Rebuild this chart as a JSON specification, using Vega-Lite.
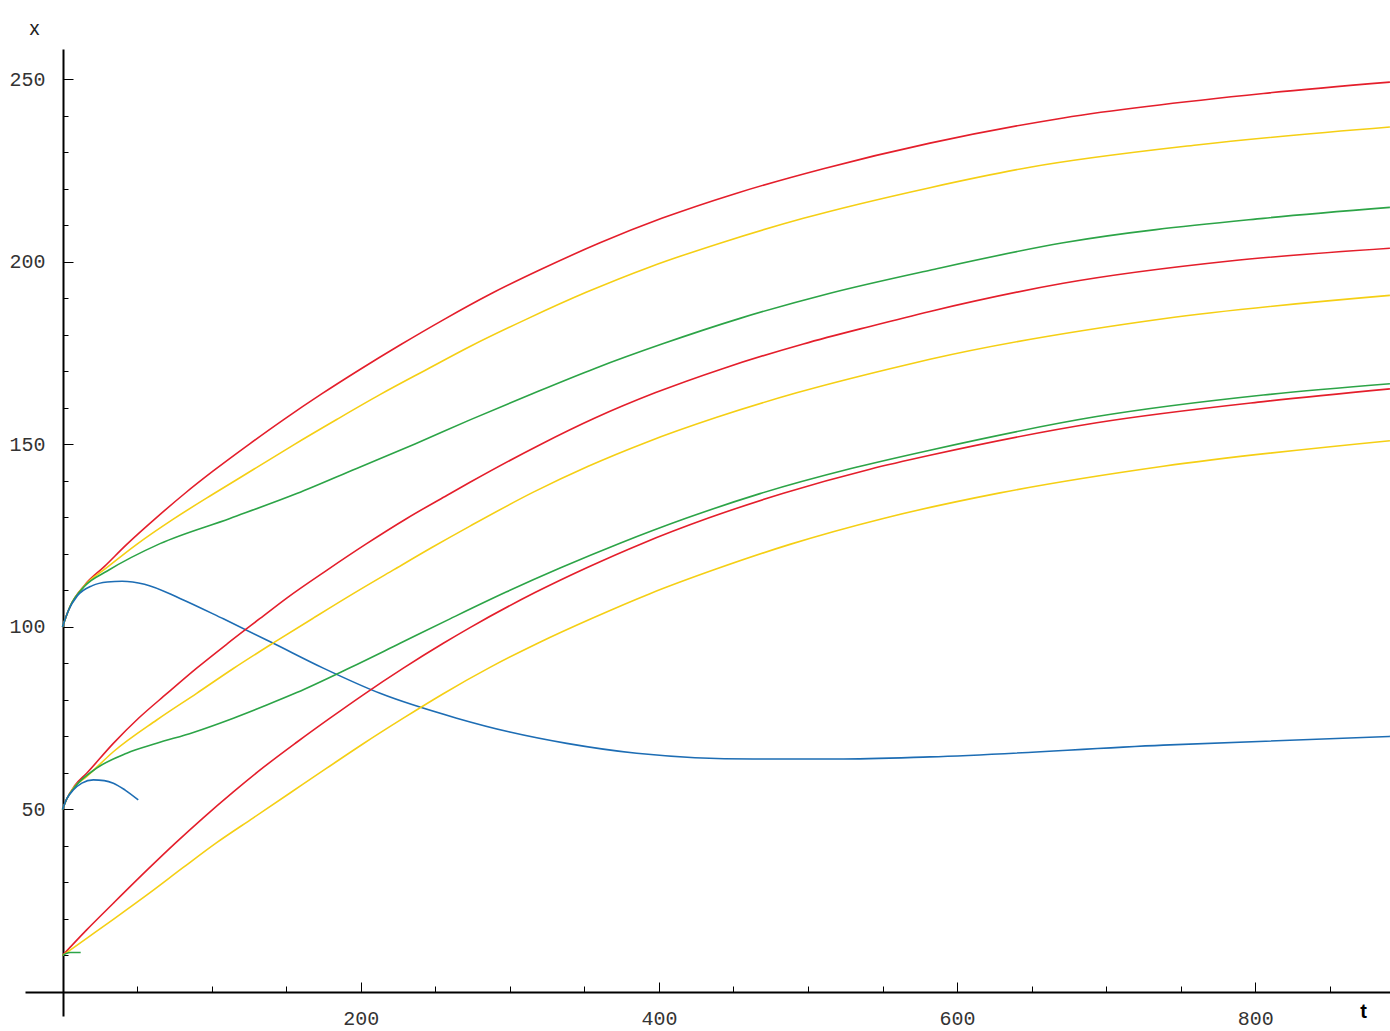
{
  "$schema": "https://vega.github.io/schema/vega-lite/v6.json",
  "width": 1365,
  "height": 967,
  "autosize": "none",
  "padding": {"left": 25, "top": 49, "right": 0, "bottom": 15},
  "background": "white",
  "config": {"view": {"stroke": null}},
  "datasets": {
    "curves": [
      {"s": "A-red", "c": "red", "t": 0, "v": 100},
      {"s": "A-red", "c": "red", "t": 5, "v": 105.5},
      {"s": "A-red", "c": "red", "t": 15, "v": 111.5},
      {"s": "A-red", "c": "red", "t": 28, "v": 116.5},
      {"s": "A-red", "c": "red", "t": 43.1, "v": 122.6},
      {"s": "A-red", "c": "red", "t": 63.2, "v": 130.0},
      {"s": "A-red", "c": "red", "t": 82.2, "v": 136.6},
      {"s": "A-red", "c": "red", "t": 101.1, "v": 142.7},
      {"s": "A-red", "c": "red", "t": 125.8, "v": 150.2},
      {"s": "A-red", "c": "red", "t": 148.1, "v": 156.7},
      {"s": "A-red", "c": "red", "t": 173.8, "v": 163.8},
      {"s": "A-red", "c": "red", "t": 199.5, "v": 170.5},
      {"s": "A-red", "c": "red", "t": 226.4, "v": 177.2},
      {"s": "A-red", "c": "red", "t": 255.4, "v": 184.1},
      {"s": "A-red", "c": "red", "t": 286.7, "v": 191.1},
      {"s": "A-red", "c": "red", "t": 320.3, "v": 197.8},
      {"s": "A-red", "c": "red", "t": 360.5, "v": 205.2},
      {"s": "A-red", "c": "red", "t": 401.9, "v": 211.9},
      {"s": "A-red", "c": "red", "t": 452.2, "v": 218.8},
      {"s": "A-red", "c": "red", "t": 510.3, "v": 225.5},
      {"s": "A-red", "c": "red", "t": 581.8, "v": 232.5},
      {"s": "A-red", "c": "red", "t": 671.2, "v": 239.4},
      {"s": "A-red", "c": "red", "t": 805.4, "v": 246.1},
      {"s": "A-red", "c": "red", "t": 890.3, "v": 249.2},

      {"s": "A-yellow", "c": "yellow", "t": 0, "v": 100},
      {"s": "A-yellow", "c": "yellow", "t": 5, "v": 105.5},
      {"s": "A-yellow", "c": "yellow", "t": 15, "v": 111.4},
      {"s": "A-yellow", "c": "yellow", "t": 29, "v": 116.0},
      {"s": "A-yellow", "c": "yellow", "t": 49.8, "v": 122.6},
      {"s": "A-yellow", "c": "yellow", "t": 74.3, "v": 129.5},
      {"s": "A-yellow", "c": "yellow", "t": 101.1, "v": 136.4},
      {"s": "A-yellow", "c": "yellow", "t": 128.0, "v": 143.1},
      {"s": "A-yellow", "c": "yellow", "t": 154.8, "v": 149.8},
      {"s": "A-yellow", "c": "yellow", "t": 183.9, "v": 156.8},
      {"s": "A-yellow", "c": "yellow", "t": 212.9, "v": 163.6},
      {"s": "A-yellow", "c": "yellow", "t": 244.3, "v": 170.5},
      {"s": "A-yellow", "c": "yellow", "t": 273.3, "v": 176.8},
      {"s": "A-yellow", "c": "yellow", "t": 311.3, "v": 184.3},
      {"s": "A-yellow", "c": "yellow", "t": 351.6, "v": 191.7},
      {"s": "A-yellow", "c": "yellow", "t": 394.0, "v": 198.6},
      {"s": "A-yellow", "c": "yellow", "t": 441.0, "v": 205.1},
      {"s": "A-yellow", "c": "yellow", "t": 496.9, "v": 211.9},
      {"s": "A-yellow", "c": "yellow", "t": 581.8, "v": 220.3},
      {"s": "A-yellow", "c": "yellow", "t": 648.9, "v": 225.9},
      {"s": "A-yellow", "c": "yellow", "t": 760.7, "v": 232.0},
      {"s": "A-yellow", "c": "yellow", "t": 890.3, "v": 236.9},

      {"s": "A-green", "c": "green", "t": 0, "v": 100},
      {"s": "A-green", "c": "green", "t": 5, "v": 105.5},
      {"s": "A-green", "c": "green", "t": 15, "v": 111.2},
      {"s": "A-green", "c": "green", "t": 30, "v": 115.3},
      {"s": "A-green", "c": "green", "t": 65.4, "v": 122.8},
      {"s": "A-green", "c": "green", "t": 112.3, "v": 129.7},
      {"s": "A-green", "c": "green", "t": 157.1, "v": 136.5},
      {"s": "A-green", "c": "green", "t": 197.3, "v": 143.4},
      {"s": "A-green", "c": "green", "t": 236.4, "v": 150.1},
      {"s": "A-green", "c": "green", "t": 273.3, "v": 156.7},
      {"s": "A-green", "c": "green", "t": 314.7, "v": 163.8},
      {"s": "A-green", "c": "green", "t": 357.1, "v": 170.8},
      {"s": "A-green", "c": "green", "t": 403.0, "v": 177.6},
      {"s": "A-green", "c": "green", "t": 454.4, "v": 184.5},
      {"s": "A-green", "c": "green", "t": 514.8, "v": 191.4},
      {"s": "A-green", "c": "green", "t": 581.8, "v": 197.7},
      {"s": "A-green", "c": "green", "t": 671.2, "v": 205.2},
      {"s": "A-green", "c": "green", "t": 805.4, "v": 211.9},
      {"s": "A-green", "c": "green", "t": 890.3, "v": 214.9},

      {"s": "A-blue", "c": "blue", "t": 0, "v": 100},
      {"s": "A-blue", "c": "blue", "t": 4, "v": 104.5},
      {"s": "A-blue", "c": "blue", "t": 10, "v": 108.5},
      {"s": "A-blue", "c": "blue", "t": 20, "v": 111.3},
      {"s": "A-blue", "c": "blue", "t": 30, "v": 112.3},
      {"s": "A-blue", "c": "blue", "t": 40, "v": 112.5},
      {"s": "A-blue", "c": "blue", "t": 55, "v": 111.7},
      {"s": "A-blue", "c": "blue", "t": 78.8, "v": 107.8},
      {"s": "A-blue", "c": "blue", "t": 107.9, "v": 102.2},
      {"s": "A-blue", "c": "blue", "t": 141.4, "v": 95.5},
      {"s": "A-blue", "c": "blue", "t": 174.9, "v": 88.7},
      {"s": "A-blue", "c": "blue", "t": 213.0, "v": 81.8},
      {"s": "A-blue", "c": "blue", "t": 264.4, "v": 75.0},
      {"s": "A-blue", "c": "blue", "t": 300.0, "v": 71.2},
      {"s": "A-blue", "c": "blue", "t": 338.2, "v": 68.1},
      {"s": "A-blue", "c": "blue", "t": 385.1, "v": 65.4},
      {"s": "A-blue", "c": "blue", "t": 463.3, "v": 63.8},
      {"s": "A-blue", "c": "blue", "t": 519.2, "v": 63.8},
      {"s": "A-blue", "c": "blue", "t": 581.8, "v": 64.4},
      {"s": "A-blue", "c": "blue", "t": 738.3, "v": 67.6},
      {"s": "A-blue", "c": "blue", "t": 890.3, "v": 70.0},

      {"s": "B-red", "c": "red", "t": 0, "v": 50},
      {"s": "B-red", "c": "red", "t": 3, "v": 53},
      {"s": "B-red", "c": "red", "t": 8, "v": 56.4},
      {"s": "B-red", "c": "red", "t": 16.2, "v": 59.9},
      {"s": "B-red", "c": "red", "t": 34.1, "v": 68.1},
      {"s": "B-red", "c": "red", "t": 50.8, "v": 74.9},
      {"s": "B-red", "c": "red", "t": 69.9, "v": 81.7},
      {"s": "B-red", "c": "red", "t": 90.0, "v": 88.7},
      {"s": "B-red", "c": "red", "t": 111.2, "v": 95.6},
      {"s": "B-red", "c": "red", "t": 132.5, "v": 102.3},
      {"s": "B-red", "c": "red", "t": 150.4, "v": 107.9},
      {"s": "B-red", "c": "red", "t": 177.2, "v": 115.5},
      {"s": "B-red", "c": "red", "t": 204.0, "v": 122.8},
      {"s": "B-red", "c": "red", "t": 230.9, "v": 129.7},
      {"s": "B-red", "c": "red", "t": 257.7, "v": 136.0},
      {"s": "B-red", "c": "red", "t": 273.3, "v": 139.6},
      {"s": "B-red", "c": "red", "t": 320.3, "v": 149.9},
      {"s": "B-red", "c": "red", "t": 357.1, "v": 157.2},
      {"s": "B-red", "c": "red", "t": 397.4, "v": 164.1},
      {"s": "B-red", "c": "red", "t": 443.2, "v": 170.8},
      {"s": "B-red", "c": "red", "t": 496.9, "v": 177.5},
      {"s": "B-red", "c": "red", "t": 541.6, "v": 182.3},
      {"s": "B-red", "c": "red", "t": 581.8, "v": 186.4},
      {"s": "B-red", "c": "red", "t": 671.2, "v": 194.1},
      {"s": "B-red", "c": "red", "t": 783.0, "v": 200.2},
      {"s": "B-red", "c": "red", "t": 890.3, "v": 203.7},

      {"s": "B-yellow", "c": "yellow", "t": 0, "v": 50},
      {"s": "B-yellow", "c": "yellow", "t": 3, "v": 53},
      {"s": "B-yellow", "c": "yellow", "t": 8, "v": 56.2},
      {"s": "B-yellow", "c": "yellow", "t": 16.2, "v": 59.0},
      {"s": "B-yellow", "c": "yellow", "t": 34.1, "v": 65.8},
      {"s": "B-yellow", "c": "yellow", "t": 63.2, "v": 74.5},
      {"s": "B-yellow", "c": "yellow", "t": 90.0, "v": 81.8},
      {"s": "B-yellow", "c": "yellow", "t": 114.6, "v": 88.6},
      {"s": "B-yellow", "c": "yellow", "t": 141.4, "v": 95.6},
      {"s": "B-yellow", "c": "yellow", "t": 168.2, "v": 102.4},
      {"s": "B-yellow", "c": "yellow", "t": 195.0, "v": 109.1},
      {"s": "B-yellow", "c": "yellow", "t": 222.0, "v": 115.6},
      {"s": "B-yellow", "c": "yellow", "t": 248.0, "v": 121.8},
      {"s": "B-yellow", "c": "yellow", "t": 273.3, "v": 127.6},
      {"s": "B-yellow", "c": "yellow", "t": 315.8, "v": 136.9},
      {"s": "B-yellow", "c": "yellow", "t": 352.6, "v": 144.0},
      {"s": "B-yellow", "c": "yellow", "t": 391.8, "v": 150.6},
      {"s": "B-yellow", "c": "yellow", "t": 438.8, "v": 157.4},
      {"s": "B-yellow", "c": "yellow", "t": 492.4, "v": 164.1},
      {"s": "B-yellow", "c": "yellow", "t": 555.0, "v": 170.7},
      {"s": "B-yellow", "c": "yellow", "t": 581.8, "v": 173.3},
      {"s": "B-yellow", "c": "yellow", "t": 738.3, "v": 184.4},
      {"s": "B-yellow", "c": "yellow", "t": 890.3, "v": 190.8},

      {"s": "B-green", "c": "green", "t": 0, "v": 50},
      {"s": "B-green", "c": "green", "t": 3, "v": 53},
      {"s": "B-green", "c": "green", "t": 8, "v": 56.0},
      {"s": "B-green", "c": "green", "t": 22.9, "v": 61.3},
      {"s": "B-green", "c": "green", "t": 43.1, "v": 65.4},
      {"s": "B-green", "c": "green", "t": 63.2, "v": 68.1},
      {"s": "B-green", "c": "green", "t": 87.7, "v": 71.1},
      {"s": "B-green", "c": "green", "t": 114.6, "v": 75.0},
      {"s": "B-green", "c": "green", "t": 137.0, "v": 78.6},
      {"s": "B-green", "c": "green", "t": 157.1, "v": 82.0},
      {"s": "B-green", "c": "green", "t": 192.8, "v": 88.8},
      {"s": "B-green", "c": "green", "t": 226.4, "v": 95.5},
      {"s": "B-green", "c": "green", "t": 259.9, "v": 102.2},
      {"s": "B-green", "c": "green", "t": 297.9, "v": 109.6},
      {"s": "B-green", "c": "green", "t": 333.7, "v": 116.1},
      {"s": "B-green", "c": "green", "t": 373.9, "v": 122.9},
      {"s": "B-green", "c": "green", "t": 418.6, "v": 129.8},
      {"s": "B-green", "c": "green", "t": 467.8, "v": 136.5},
      {"s": "B-green", "c": "green", "t": 528.2, "v": 143.3},
      {"s": "B-green", "c": "green", "t": 581.8, "v": 148.4},
      {"s": "B-green", "c": "green", "t": 693.6, "v": 157.6},
      {"s": "B-green", "c": "green", "t": 805.4, "v": 163.5},
      {"s": "B-green", "c": "green", "t": 890.3, "v": 166.6},

      {"s": "B-blue", "c": "blue", "t": 0, "v": 50},
      {"s": "B-blue", "c": "blue", "t": 3, "v": 53},
      {"s": "B-blue", "c": "blue", "t": 7.2, "v": 55.3},
      {"s": "B-blue", "c": "blue", "t": 13, "v": 57.2},
      {"s": "B-blue", "c": "blue", "t": 20.7, "v": 58.1},
      {"s": "B-blue", "c": "blue", "t": 28, "v": 57.9},
      {"s": "B-blue", "c": "blue", "t": 34.1, "v": 57.2},
      {"s": "B-blue", "c": "blue", "t": 42, "v": 55.3},
      {"s": "B-blue", "c": "blue", "t": 50.8, "v": 52.6},

      {"s": "C-red", "c": "red", "t": 0, "v": 10},
      {"s": "C-red", "c": "red", "t": 16.2, "v": 17.0},
      {"s": "C-red", "c": "red", "t": 34.1, "v": 24.3},
      {"s": "C-red", "c": "red", "t": 57.5, "v": 33.7},
      {"s": "C-red", "c": "red", "t": 75.5, "v": 40.7},
      {"s": "C-red", "c": "red", "t": 94.4, "v": 47.7},
      {"s": "C-red", "c": "red", "t": 114.6, "v": 54.8},
      {"s": "C-red", "c": "red", "t": 134.7, "v": 61.5},
      {"s": "C-red", "c": "red", "t": 157.1, "v": 68.4},
      {"s": "C-red", "c": "red", "t": 179.4, "v": 75.0},
      {"s": "C-red", "c": "red", "t": 201.7, "v": 81.4},
      {"s": "C-red", "c": "red", "t": 228.6, "v": 88.7},
      {"s": "C-red", "c": "red", "t": 255.4, "v": 95.5},
      {"s": "C-red", "c": "red", "t": 273.3, "v": 99.8},
      {"s": "C-red", "c": "red", "t": 316.9, "v": 109.4},
      {"s": "C-red", "c": "red", "t": 351.6, "v": 116.2},
      {"s": "C-red", "c": "red", "t": 388.5, "v": 122.8},
      {"s": "C-red", "c": "red", "t": 433.2, "v": 129.8},
      {"s": "C-red", "c": "red", "t": 483.5, "v": 136.6},
      {"s": "C-red", "c": "red", "t": 541.6, "v": 143.2},
      {"s": "C-red", "c": "red", "t": 581.8, "v": 147.0},
      {"s": "C-red", "c": "red", "t": 693.6, "v": 155.9},
      {"s": "C-red", "c": "red", "t": 805.4, "v": 161.7},
      {"s": "C-red", "c": "red", "t": 890.3, "v": 165.2},

      {"s": "C-yellow", "c": "yellow", "t": 0, "v": 10},
      {"s": "C-yellow", "c": "yellow", "t": 16.2, "v": 14.7},
      {"s": "C-yellow", "c": "yellow", "t": 34.1, "v": 19.9},
      {"s": "C-yellow", "c": "yellow", "t": 58.7, "v": 27.2},
      {"s": "C-yellow", "c": "yellow", "t": 81.0, "v": 34.1},
      {"s": "C-yellow", "c": "yellow", "t": 103.4, "v": 40.9},
      {"s": "C-yellow", "c": "yellow", "t": 128.0, "v": 47.7},
      {"s": "C-yellow", "c": "yellow", "t": 152.6, "v": 54.5},
      {"s": "C-yellow", "c": "yellow", "t": 177.2, "v": 61.3},
      {"s": "C-yellow", "c": "yellow", "t": 201.7, "v": 68.0},
      {"s": "C-yellow", "c": "yellow", "t": 228.6, "v": 75.0},
      {"s": "C-yellow", "c": "yellow", "t": 255.4, "v": 81.7},
      {"s": "C-yellow", "c": "yellow", "t": 286.7, "v": 88.9},
      {"s": "C-yellow", "c": "yellow", "t": 319.1, "v": 95.6},
      {"s": "C-yellow", "c": "yellow", "t": 354.9, "v": 102.3},
      {"s": "C-yellow", "c": "yellow", "t": 394.0, "v": 109.1},
      {"s": "C-yellow", "c": "yellow", "t": 438.8, "v": 115.9},
      {"s": "C-yellow", "c": "yellow", "t": 487.9, "v": 122.6},
      {"s": "C-yellow", "c": "yellow", "t": 550.5, "v": 129.7},
      {"s": "C-yellow", "c": "yellow", "t": 628.8, "v": 136.7},
      {"s": "C-yellow", "c": "yellow", "t": 738.3, "v": 144.0},
      {"s": "C-yellow", "c": "yellow", "t": 890.3, "v": 151.0},

      {"s": "C-green", "c": "green", "t": 0, "v": 10},
      {"s": "C-green", "c": "green", "t": 5, "v": 10.8},
      {"s": "C-green", "c": "green", "t": 12.2, "v": 10.8}
    ]
  },
  "data": {"name": "curves"},
  "mark": {"type": "line", "interpolate": "monotone", "strokeWidth": 1.6, "clip": true},
  "encoding": {
    "x": {
      "field": "t",
      "type": "quantitative",
      "scale": {"domain": [-25.15, 890.35], "nice": false, "zero": false},
      "axis": {
        "orient": "bottom",
        "offset": -24,
        "grid": false,
        "values": [50, 100, 150, 200, 250, 300, 350, 400, 450, 500, 550, 600, 650, 700, 750, 800, 850],
        "labelExpr": "datum.value % 200 === 0 ? datum.label : ''",
        "tickSize": {"condition": {"test": "datum.value % 200 === 0", "value": -10}, "value": -6},
        "tickColor": "black",
        "tickWidth": 1,
        "domainColor": "black",
        "domainWidth": 2,
        "labelFont": "Liberation Mono",
        "labelFontSize": 20,
        "labelColor": "#333333",
        "labelPadding": 26,
        "labelFlush": false,
        "labelOverlap": false,
        "title": "t",
        "titleFont": "Liberation Sans",
        "titleFontSize": 20,
        "titleFontWeight": "bold",
        "titleColor": "black",
        "titleAnchor": null,
        "titleAlign": "center",
        "titleBaseline": "middle",
        "titleX": 1338,
        "titleY": 19
      }
    },
    "y": {
      "field": "v",
      "type": "quantitative",
      "scale": {"domain": [-6.58, 258.28], "nice": false, "zero": false},
      "axis": {
        "orient": "left",
        "offset": -38,
        "grid": false,
        "values": [10, 20, 30, 40, 50, 60, 70, 80, 90, 100, 110, 120, 130, 140, 150, 160, 170, 180, 190, 200, 210, 220, 230, 240, 250],
        "labelExpr": "datum.value % 50 === 0 ? datum.label : ''",
        "tickSize": {"condition": {"test": "datum.value % 50 === 0", "value": -10}, "value": -5},
        "tickColor": "black",
        "tickWidth": 1,
        "domainColor": "black",
        "domainWidth": 2,
        "labelFont": "Liberation Mono",
        "labelFontSize": 20,
        "labelColor": "#333333",
        "labelPadding": 28,
        "labelFlush": false,
        "labelOverlap": false,
        "title": "x",
        "titleFont": "Liberation Sans",
        "titleFontSize": 20,
        "titleFontWeight": "normal",
        "titleColor": "#222222",
        "titleAngle": 0,
        "titleAnchor": null,
        "titleAlign": "center",
        "titleBaseline": "middle",
        "titleX": -29,
        "titleY": -21
      }
    },
    "color": {
      "field": "c",
      "type": "nominal",
      "scale": {"domain": ["red", "yellow", "green", "blue"], "range": ["#e41e2b", "#f5cf14", "#2ca447", "#1d6db4"]},
      "legend": null
    },
    "detail": {"field": "s"}
  }
}
